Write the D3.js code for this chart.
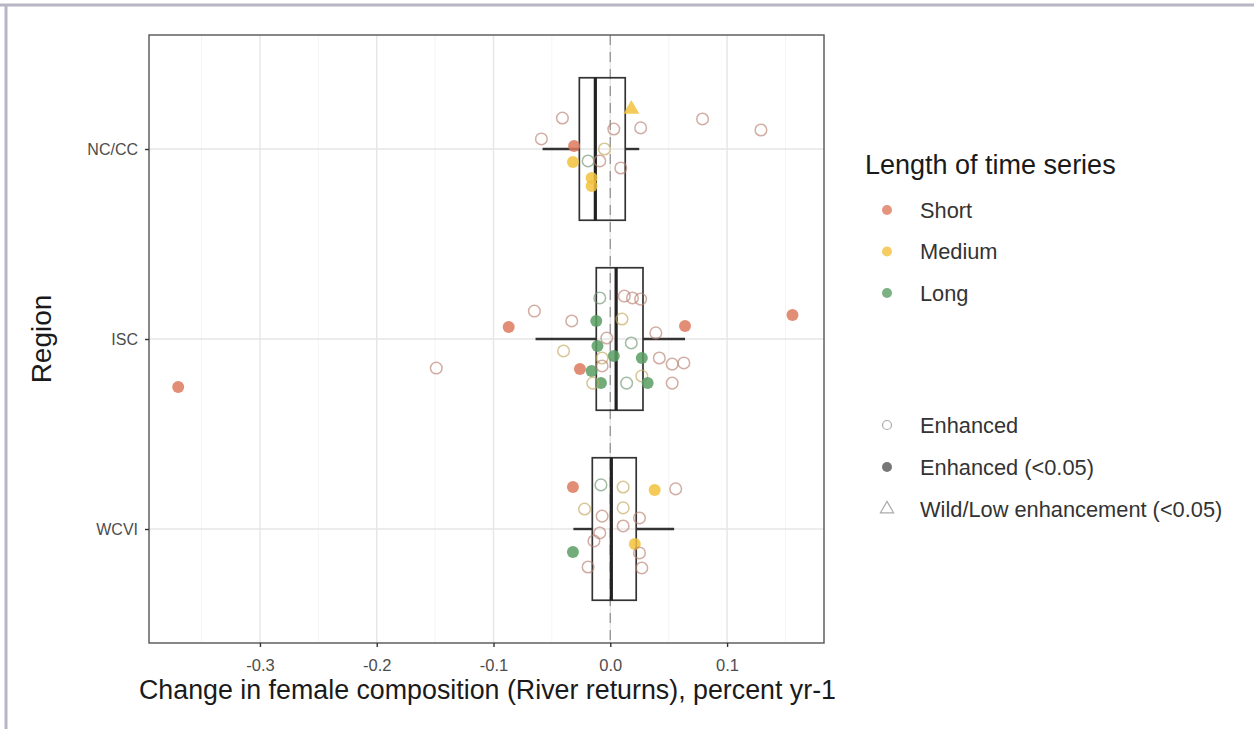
<!DOCTYPE html>
<html>
<head>
<meta charset="utf-8">
<script src="https://cdn.jsdelivr.net/npm/d3@7"></script>
<style>
  html, body { margin: 0; padding: 0; background: #fff; }
  svg { display: block; font-family: "Liberation Sans", Arial, sans-serif; }
</style>
</head>
<body>
<svg id="chart" width="1254" height="729"></svg>
<script>
// Regions on the y axis (top to bottom)
const regions = ["NC/CC", "ISC", "WCVI"];
const lengthLevels = ["Short", "Medium", "Long"];
const lengthColors = ["#dd7a5e", "#f2c13c", "#5a9e64"];
const typeLevels = ["Enhanced", "Enhanced (<0.05)", "Wild/Low enhancement (<0.05)"];
const xTicks = [-0.3, -0.2, -0.1, 0.0, 0.1];

// Box-and-whisker summaries per region
const boxQ1     = [-0.0265, -0.012, -0.0154];
const boxMedian = [-0.0128,  0.005,  0.0009];
const boxQ3     = [ 0.0128,  0.028,  0.0222];
const whiskerLo = [-0.058,  -0.064, -0.0316];
const whiskerHi = [ 0.0248,  0.064,  0.0547];

// Individual populations: [trend, vertical jitter (fraction of band), series length, type]
// type: "open" = Enhanced, "sig" = Enhanced (<0.05), "wild" = Wild/Low enhancement (<0.05)
const pointsNCCC = [
  [-0.041, -0.163, "Short", "open"],
  [-0.059, -0.053, "Short", "open"],
  [-0.031, -0.016, "Short", "sig"],
  [-0.032,  0.068, "Medium", "sig"],
  [-0.019,  0.063, "Long", "open"],
  [-0.009,  0.063, "Short", "open"],
  [-0.016,  0.153, "Medium", "sig"],
  [-0.016,  0.195, "Medium", "sig"],
  [ 0.003, -0.105, "Short", "open"],
  [ 0.026, -0.111, "Short", "open"],
  [ 0.009,  0.100, "Short", "open"],
  [ 0.018, -0.210, "Medium", "wild"],
  [-0.005,  0.000, "Medium", "open"],
  [ 0.079, -0.158, "Short", "open"],
  [ 0.129, -0.100, "Short", "open"]
];
const pointsISC = [
  [-0.370,  0.253, "Short", "sig"],
  [-0.149,  0.153, "Short", "open"],
  [-0.065, -0.147, "Short", "open"],
  [-0.087, -0.063, "Short", "sig"],
  [-0.033, -0.095, "Short", "open"],
  [-0.040,  0.063, "Medium", "open"],
  [ 0.064, -0.068, "Short", "sig"],
  [ 0.156, -0.126, "Short", "sig"],
  [-0.009, -0.216, "Long", "open"],
  [ 0.012, -0.226, "Short", "open"],
  [ 0.019, -0.216, "Short", "open"],
  [ 0.026, -0.210, "Short", "open"],
  [-0.012, -0.095, "Long", "sig"],
  [ 0.010, -0.105, "Medium", "open"],
  [ 0.039, -0.032, "Short", "open"],
  [-0.003, -0.005, "Short", "open"],
  [ 0.018,  0.021, "Long", "open"],
  [-0.011,  0.037, "Long", "sig"],
  [ 0.003,  0.089, "Long", "sig"],
  [ 0.027,  0.100, "Long", "sig"],
  [ 0.042,  0.100, "Short", "open"],
  [ 0.053,  0.132, "Short", "open"],
  [ 0.063,  0.126, "Short", "open"],
  [-0.026,  0.158, "Short", "sig"],
  [-0.016,  0.168, "Long", "sig"],
  [-0.007,  0.100, "Medium", "open"],
  [-0.007,  0.142, "Short", "open"],
  [-0.008,  0.232, "Long", "sig"],
  [ 0.014,  0.232, "Long", "open"],
  [ 0.027,  0.195, "Medium", "open"],
  [ 0.032,  0.232, "Long", "sig"],
  [ 0.053,  0.232, "Short", "open"],
  [-0.015,  0.232, "Medium", "open"]
];
const pointsWCVI = [
  [-0.032, -0.221, "Short", "sig"],
  [-0.008, -0.232, "Long", "open"],
  [ 0.011, -0.221, "Medium", "open"],
  [ 0.038, -0.205, "Medium", "sig"],
  [ 0.056, -0.211, "Short", "open"],
  [-0.022, -0.105, "Medium", "open"],
  [-0.007, -0.068, "Short", "open"],
  [ 0.011, -0.111, "Medium", "open"],
  [ 0.025, -0.058, "Short", "open"],
  [ 0.011, -0.016, "Short", "open"],
  [-0.009,  0.021, "Short", "open"],
  [-0.014,  0.063, "Short", "open"],
  [ 0.021,  0.079, "Medium", "sig"],
  [ 0.025,  0.126, "Short", "open"],
  [-0.032,  0.121, "Long", "sig"],
  [-0.019,  0.200, "Short", "open"],
  [ 0.027,  0.205, "Short", "open"]
];
const pointSets = [pointsNCCC, pointsISC, pointsWCVI];

const svg = d3.select("#chart");

// Outer frame lines
svg.append("line").attr("x1", 0).attr("x2", 1254).attr("y1", 5).attr("y2", 5)
  .attr("stroke", "#b7b6c4").attr("stroke-width", 3);
svg.append("line").attr("x1", 6).attr("x2", 6).attr("y1", 5).attr("y2", 729)
  .attr("stroke", "#b7b6c4").attr("stroke-width", 3);

const panel = { left: 149, right: 824, top: 35, bottom: 643 };

const x = d3.scaleLinear().domain([-0.395, 0.183]).range([panel.left, panel.right]);
const y = d3.scalePoint().domain(regions).range([panel.top, panel.bottom]).padding(0.6);
const color = d3.scaleOrdinal().domain(lengthLevels).range(lengthColors);
const bandH = y.step();

// Grid lines
const g = svg.append("g");
const minorTicks = d3.range(-0.35, 0.19, 0.1);
g.selectAll("line.minor").data(minorTicks).join("line")
  .attr("x1", d => x(d)).attr("x2", d => x(d))
  .attr("y1", panel.top).attr("y2", panel.bottom)
  .attr("stroke", "#f4f4f4").attr("stroke-width", 1);
g.selectAll("line.majorx").data(xTicks).join("line")
  .attr("x1", d => x(d)).attr("x2", d => x(d))
  .attr("y1", panel.top).attr("y2", panel.bottom)
  .attr("stroke", "#e6e6e6").attr("stroke-width", 1.4);
g.selectAll("line.majory").data(regions).join("line")
  .attr("x1", panel.left).attr("x2", panel.right)
  .attr("y1", d => y(d)).attr("y2", d => y(d))
  .attr("stroke", "#e6e6e6").attr("stroke-width", 1.4);

// Reference line at zero
svg.append("line")
  .attr("x1", x(0)).attr("x2", x(0))
  .attr("y1", panel.top).attr("y2", panel.bottom)
  .attr("stroke", "#9a9a9a").attr("stroke-width", 1.4)
  .attr("stroke-dasharray", "10,7");

// Boxplots
const boxes = svg.append("g").selectAll("g").data(regions).join("g");
boxes.append("line")
  .attr("x1", (d, i) => x(whiskerLo[i])).attr("x2", (d, i) => x(boxQ1[i]))
  .attr("y1", d => y(d)).attr("y2", d => y(d))
  .attr("stroke", "#333").attr("stroke-width", 2.4);
boxes.append("line")
  .attr("x1", (d, i) => x(boxQ3[i])).attr("x2", (d, i) => x(whiskerHi[i]))
  .attr("y1", d => y(d)).attr("y2", d => y(d))
  .attr("stroke", "#333").attr("stroke-width", 2.4);
boxes.append("rect")
  .attr("x", (d, i) => x(boxQ1[i]))
  .attr("width", (d, i) => x(boxQ3[i]) - x(boxQ1[i]))
  .attr("y", d => y(d) - bandH * 0.375)
  .attr("height", bandH * 0.75)
  .attr("fill", "none").attr("stroke", "#333").attr("stroke-width", 1.7);
boxes.append("line")
  .attr("x1", (d, i) => x(boxMedian[i])).attr("x2", (d, i) => x(boxMedian[i]))
  .attr("y1", d => y(d) - bandH * 0.375).attr("y2", d => y(d) + bandH * 0.375)
  .attr("stroke", "#222").attr("stroke-width", 3.2);

// Points
const flat = [];
pointSets.forEach((set, ri) => set.forEach(p => flat.push({
  region: regions[ri], value: p[0], jitter: p[1], len: p[2], type: p[3]
})));
const openStroke = c => d3.interpolateRgb(c, "#8a8a8a")(0.45);
const pts = svg.append("g");
flat.forEach(d => {
  const cx = x(d.value), cy = y(d.region) + d.jitter * bandH;
  if (d.type === "open") {
    pts.append("circle").attr("cx", cx).attr("cy", cy).attr("r", 5.8)
      .attr("fill", "none").attr("stroke", openStroke(color(d.len)))
      .attr("stroke-opacity", 0.65).attr("stroke-width", 1.5);
  } else if (d.type === "sig") {
    pts.append("circle").attr("cx", cx).attr("cy", cy).attr("r", 6)
      .attr("fill", color(d.len)).attr("fill-opacity", 0.85);
  } else {
    pts.append("path")
      .attr("d", d3.symbol(d3.symbolTriangle, 110)())
      .attr("transform", `translate(${cx},${cy})`)
      .attr("fill", color(d.len)).attr("fill-opacity", 0.85);
  }
});

// Panel border
svg.append("rect")
  .attr("x", panel.left).attr("y", panel.top)
  .attr("width", panel.right - panel.left).attr("height", panel.bottom - panel.top)
  .attr("fill", "none").attr("stroke", "#555").attr("stroke-width", 1.4);

// Axes
const xAxis = svg.append("g").attr("transform", `translate(0,${panel.bottom})`)
  .call(d3.axisBottom(x).tickValues(xTicks).tickSize(4).tickPadding(12)
    .tickFormat(d => d3.format(".1f")(d).replace("\u2212", "-")));
const yAxis = svg.append("g").attr("transform", `translate(${panel.left},0)`)
  .call(d3.axisLeft(y).tickSize(4).tickPadding(7));
[xAxis, yAxis].forEach(a => {
  a.select(".domain").remove();
  a.selectAll(".tick line").attr("stroke", "#333").attr("stroke-width", 1.4);
  a.selectAll(".tick text").attr("fill", "#4d4d4d")
    .style("font-family", "'Liberation Sans', Arial, sans-serif");
});
xAxis.selectAll(".tick text").style("font-size", "16.5px");
yAxis.selectAll(".tick text").style("font-size", "16px");

// Axis titles
svg.append("text")
  .attr("x", (panel.left + panel.right) / 2 + 1).attr("y", 699)
  .attr("text-anchor", "middle").attr("fill", "#1a1a1a")
  .style("font-size", "26.8px")
  .text("Change in female composition (River returns), percent yr-1");
svg.append("text")
  .attr("transform", `translate(51,${(panel.top + panel.bottom) / 2}) rotate(-90)`)
  .attr("text-anchor", "middle").attr("fill", "#1a1a1a")
  .style("font-size", "28px")
  .text("Region");

// Legend: series length
const leg = svg.append("g");
leg.append("text").attr("x", 865).attr("y", 174)
  .attr("fill", "#1a1a1a").style("font-size", "27px")
  .text("Length of time series");
const legY1 = d3.scalePoint().domain(lengthLevels).range([210, 293]);
lengthLevels.forEach(l => {
  leg.append("circle").attr("cx", 887).attr("cy", legY1(l)).attr("r", 5)
    .attr("fill", color(l)).attr("fill-opacity", 0.8);
  leg.append("text").attr("x", 920).attr("y", legY1(l) + 7.5)
    .attr("fill", "#333").style("font-size", "21.8px").text(l);
});

// Legend: enhancement type
const legY2 = d3.scalePoint().domain(typeLevels).range([425, 509]);
typeLevels.forEach((t, i) => {
  const cy = legY2(t);
  if (i === 0) {
    leg.append("circle").attr("cx", 887).attr("cy", cy).attr("r", 4.5)
      .attr("fill", "none").attr("stroke", "#aaa").attr("stroke-width", 1.2);
  } else if (i === 1) {
    leg.append("circle").attr("cx", 887).attr("cy", cy).attr("r", 5)
      .attr("fill", "#777");
  } else {
    leg.append("path").attr("d", d3.symbol(d3.symbolTriangle, 75)())
      .attr("transform", `translate(887,${cy})`)
      .attr("fill", "none").attr("stroke", "#aaa").attr("stroke-width", 1.2);
  }
  leg.append("text").attr("x", 920).attr("y", cy + 7.5)
    .attr("fill", "#333").style("font-size", "21.8px").text(t);
});
</script>
</body>
</html>
